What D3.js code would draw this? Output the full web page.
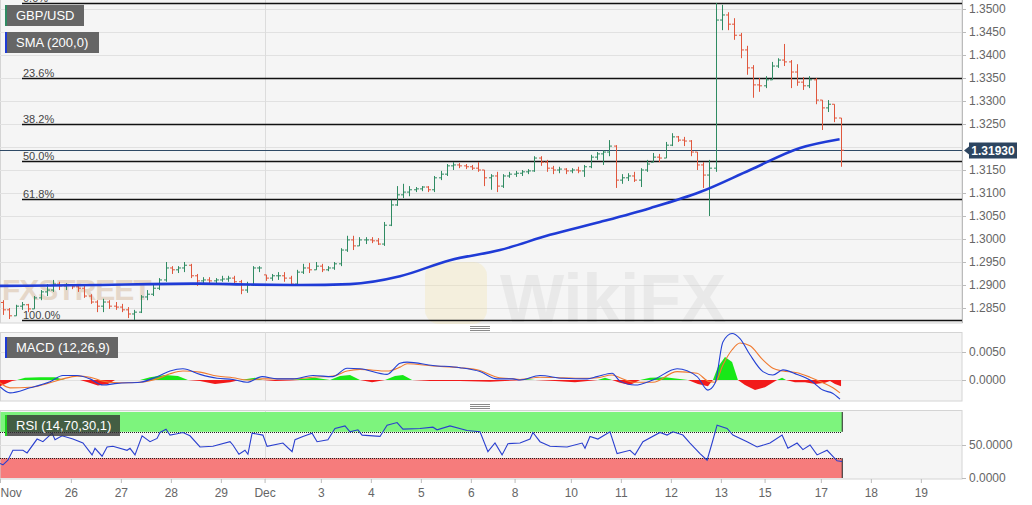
<!DOCTYPE html>
<html>
<head>
<meta charset="utf-8">
<script src="https://d3js.org/d3.v7.min.js"></script>
<style>
	body { margin: 0; background: #fff; }
	svg { display: block; font-family: "Liberation Sans", Arial, sans-serif; }
	.axis text { fill: #666; font-size: 12px; }
	.axis line, .axis path { stroke: #bbb; }
</style>
</head>
<body>
<svg id="chart" width="1032" height="505"></svg>
<script>
// GBP/USD, 3-hour bars, time measured in trading hours from the left edge
var barHours = 3;
var firstOpen = 1.2862;
var barHighs = [1.2867,1.2850,1.2857,1.2863,1.2859,1.2876,1.2889,1.2902,1.2911,1.2907,
	1.2904,1.2902,1.2902,1.2898,1.2880,1.2867,1.2870,1.2867,1.2863,1.2859,
	1.2852,1.2846,1.2878,1.2889,1.2902,1.2915,1.2950,1.2941,1.2941,1.2950,
	1.2946,1.2924,1.2917,1.2917,1.2915,1.2920,1.2920,1.2920,1.2911,1.2907,
	1.2941,1.2941,1.2922,1.2924,1.2928,1.2928,1.2920,1.2933,1.2946,1.2948,
	1.2950,1.2946,1.2941,1.2950,1.2980,1.3007,1.3007,1.3004,1.3004,1.3004,
	1.3002,1.3037,1.3085,1.3115,1.3120,1.3115,1.3113,1.3115,1.3115,1.3137,
	1.3148,1.3163,1.3167,1.3165,1.3163,1.3161,1.3167,1.3150,1.3141,1.3146,
	1.3141,1.3146,1.3148,1.3150,1.3152,1.3180,1.3180,1.3172,1.3159,1.3157,
	1.3154,1.3154,1.3157,1.3161,1.3183,1.3189,1.3193,1.3215,1.3204,1.3141,
	1.3143,1.3146,1.3154,1.3172,1.3187,1.3185,1.3211,1.3230,1.3224,1.3222,
	1.3215,1.3189,1.3167,1.3172,1.3513,1.3509,1.3493,1.3480,1.3448,1.3420,
	1.3378,1.3350,1.3354,1.3385,1.3393,1.3424,1.3389,1.3380,1.3352,1.3354,
	1.3350,1.3302,1.3302,1.3293,1.3263];
var barLows = [1.2835,1.2826,1.2833,1.2846,1.2841,1.2848,1.2867,1.2876,1.2885,1.2889,
	1.2889,1.2891,1.2885,1.2872,1.2859,1.2841,1.2841,1.2848,1.2846,1.2841,
	1.2828,1.2824,1.2839,1.2867,1.2876,1.2889,1.2907,1.2924,1.2926,1.2928,
	1.2915,1.2898,1.2902,1.2904,1.2904,1.2907,1.2907,1.2902,1.2880,1.2883,
	1.2898,1.2928,1.2909,1.2909,1.2911,1.2907,1.2898,1.2900,1.2924,1.2926,
	1.2933,1.2928,1.2930,1.2933,1.2941,1.2972,1.2976,1.2985,1.2989,1.2991,
	1.2987,1.2985,1.3028,1.3072,1.3089,1.3093,1.3102,1.3104,1.3102,1.3102,
	1.3128,1.3137,1.3150,1.3154,1.3152,1.3150,1.3146,1.3115,1.3107,1.3102,
	1.3111,1.3133,1.3135,1.3137,1.3141,1.3146,1.3159,1.3146,1.3141,1.3143,
	1.3141,1.3143,1.3143,1.3135,1.3154,1.3172,1.3161,1.3180,1.3111,1.3120,
	1.3126,1.3124,1.3113,1.3146,1.3167,1.3167,1.3176,1.3202,1.3211,1.3202,
	1.3180,1.3150,1.3111,1.3050,1.3146,1.3454,1.3454,1.3433,1.3393,1.3357,
	1.3307,1.3320,1.3328,1.3346,1.3372,1.3376,1.3328,1.3333,1.3324,1.3328,
	1.3293,1.3237,1.3276,1.3254,1.3157];
var barCloses = [1.2846,1.2833,1.2854,1.2857,1.2848,1.2872,1.2885,1.2889,1.2902,1.2898,
	1.2900,1.2896,1.2893,1.2876,1.2863,1.2854,1.2863,1.2854,1.2852,1.2846,
	1.2837,1.2841,1.2874,1.2880,1.2893,1.2911,1.2937,1.2933,1.2937,1.2943,
	1.2920,1.2909,1.2911,1.2909,1.2911,1.2913,1.2915,1.2907,1.2889,1.2900,
	1.2937,1.2937,1.2915,1.2920,1.2920,1.2915,1.2902,1.2928,1.2937,1.2933,
	1.2941,1.2933,1.2937,1.2946,1.2976,1.2998,1.2985,1.2998,1.2998,1.2996,
	1.2989,1.3030,1.3074,1.3096,1.3102,1.3107,1.3109,1.3113,1.3107,1.3133,
	1.3141,1.3159,1.3161,1.3159,1.3157,1.3154,1.3150,1.3133,1.3137,1.3115,
	1.3137,1.3141,1.3143,1.3146,1.3148,1.3176,1.3167,1.3154,1.3150,1.3152,
	1.3148,1.3150,1.3148,1.3157,1.3178,1.3185,1.3189,1.3202,1.3128,1.3133,
	1.3137,1.3128,1.3150,1.3163,1.3178,1.3176,1.3204,1.3222,1.3215,1.3213,
	1.3189,1.3161,1.3139,1.3154,1.3476,1.3487,1.3467,1.3443,1.3411,1.3372,
	1.3335,1.3333,1.3346,1.3376,1.3389,1.3385,1.3363,1.3341,1.3333,1.3346,
	1.3302,1.3285,1.3293,1.3263,1.3193];
var lastPrice = 1.3193;

var smaHours = [0,24,48,72,96,120,144,168,192,216,240,264,288,312,336,360,384,403];
var smaValues = [1.2898,1.2899,1.2900,1.2902,1.2903,1.2901,1.2900,1.2902,1.2919,1.2954,
	1.2976,1.3009,1.3037,1.3067,1.3102,1.3150,1.3198,1.3217];

var fibHigh = 1.3513, fibLow = 1.2824;
var fibRatios = [0, 0.236, 0.382, 0.5, 0.618, 1];
var fibLabels = ['0.0%', '23.6%', '38.2%', '50.0%', '61.8%', '100.0%'];

var priceTicks = [1.2850,1.2900,1.2950,1.3000,1.3050,1.3100,1.3150,1.3200,1.3250,1.3300,1.3350,1.3400,1.3450,1.3500];

var macdHours = [0,4.8,14.4,24,30.2,37,43.2,49.4,56.2,67.2,75.4,81.6,87.8,96,104.2,111.8,118.6,125.8,133,140.6,
	150.2,159.8,166.6,172.8,185.8,192,195.4,207.8,220.8,230.4,238.6,246.2,249.6,259.2,270.2,281.8,286.6,293.8,297.6,304.8,
	313.4,325,334.6,339.8,343.2,347,351.4,355.2,360,366.2,371,375.8,382.6,388.8,395,399.8,403.2];
var macdLine = [-0.0012,-0.0023,-0.0014,-0.0003,0.0008,0.0008,0.0002,-0.0009,-0.0006,-0.0004,
	0.0006,0.0016,0.0020,0.0010,0.0003,0.0001,-0.0004,0.0006,0.0002,0.0002,
	0.0008,0.0006,0.0021,0.0020,0.0010,0.0030,0.0032,0.0026,0.0022,0.0015,
	0.0002,0.0002,0,0.0008,0.0003,0.0002,0.0006,0.0012,-0.0002,-0.0009,
	0,0.0020,0.0006,-0.0018,-0.0006,0.0068,0.0083,0.0074,0.0045,0.0015,
	0.0009,0.0018,0.0010,0,-0.0018,-0.0024,-0.0034];
var signalLine = [-0.0005,-0.0014,-0.0013,-0.0005,0.0002,0.0007,0.0005,-0.0002,-0.0005,-0.0004,
	0.0002,0.0011,0.0016,0.0014,0.0007,0.0004,0,0.0002,0.0002,0.0002,
	0.0005,0.0007,0.0016,0.0019,0.0016,0.0023,0.0029,0.0025,0.0022,0.0017,
	0.0005,0.0002,0.0001,0.0005,0.0004,0.0003,0.0004,0.0009,0.0004,-0.0004,
	-0.0004,0.0015,0.0012,-0.0002,-0.0004,0.0027,0.0054,0.0066,0.0061,0.0036,
	0.0021,0.0016,0.0013,0.0005,-0.0005,-0.0014,-0.0023];
var histHours = [0,5.8,8.2,12,19.2,26.4,31.2,38.4,42.2,47,51.8,55.2,67.2,72,79.2,85.4,90.2,96,103.2,110.4,
	115.2,122.4,126.2,132,139.2,144,151.2,158.4,163.2,168,172.8,178.6,184.8,189.6,193.4,197.8,206.4,220.8,235.2,247.2,
	252,256.8,266.4,276,287,290.4,293.8,297.6,302.4,307.2,312,319.2,326.4,330.2,335,339.8,342.2,344.6,348,351.4,
	354.2,357.6,362.4,367.2,373,375.4,377.3,381.6,386.4,391.2,396,398.4,400.8,403.7];
var histValues = [-0.0011,-0.0002,0,0.0004,0.0005,0.0005,0,0,-0.0004,-0.0010,
	-0.0007,0,0,0.0005,0.0009,0.0007,0,-0.0002,-0.0007,-0.0004,
	0,0.0004,0,-0.0002,-0.0001,0.0002,0.0004,0,0.0007,0.0009,
	0,-0.0004,0,0.0007,0.0009,0,-0.0002,-0.0002,-0.0003,-0.0001,
	0.0002,0,-0.0002,-0.0004,0,0.0004,0,-0.0005,-0.0009,0,
	0.0004,0.0005,0.0002,0,-0.0007,-0.0011,0,0.0023,0.0041,0.0032,
	0,-0.0009,-0.0018,-0.0013,0,0.0004,0,-0.0004,-0.0004,-0.0007,
	-0.0005,-0.0002,-0.0007,-0.0011];
var macdTicks = [0, 0.005];

var rsiHours = [0,1.4,3.8,6.2,11,13,17.8,20.6,25,26.4,29.8,35,39.8,44.2,45.6,49,51.4,54.2,61,62.4,
	64.8,68.2,72,75.4,76.8,79.7,81.6,85,87.8,91.2,96,102.2,110.4,111.8,114.7,117.6,119,121,126.2,128.2,
	135.8,140.2,141.6,145.4,149.8,152.2,157.4,160.8,165.6,168,171.8,173.8,182.4,185.8,190.6,193.4,201.6,207.8,209.8,216,
	224.2,230.4,234.2,237.6,241,243.8,249.6,254.4,255.8,259.2,264,272.2,279.4,280.8,283.2,287,292.8,296.2,302.4,304.8,
	308.6,316.8,320.2,323,327.8,331.2,336,339.4,341.8,344.2,349,351.8,358.6,363.4,369.6,375.4,378.2,382.6,385.4,388.8,
	392.2,397,401.8,404.2];
var rsiValues = [22,20,27,42,42,38,59,55,68,58,64,59,53,35,45,33,47,48,42,45,
	35,64,55,60,69,74,65,67,69,64,47,48,55,50,36,42,36,68,65,48,
	53,40,58,63,68,55,58,75,79,70,73,65,63,80,84,74,75,77,73,79,
	72,70,40,53,35,52,53,59,69,55,48,47,53,45,63,59,70,37,42,35,
	55,69,65,70,65,53,37,27,53,80,75,65,55,47,53,65,45,53,43,50,
	35,42,26,25];
var rsiUpper = 70, rsiLower = 30;
var rsiTicks = [0, 50];

var dayLabels = ['Nov','26','27','28','29','Dec','3','4','5','6','8','10','11','12','13','15','17','18','19'];
var dayHours = [0,34,58,82,106,127,154,178,202,226,247,274,298,322,346,367,394,418,442];
var monthHour = 127;

(function() {
	var svg = d3.select('#chart');
	var plotW = 962,
		mainTop = 0, mainBottom = 323,
		macdTop = 332.5, macdBottom = 401,
		rsiTop = 410.5, rsiBottom = 479;

	var x = d3.scaleLinear().domain([0, 461.76]).range([0, plotW]);
	var y = d3.scaleLinear().domain([1.2850, 1.3500]).range([308, 9]);
	var yMacd = d3.scaleLinear().domain([0, 0.005]).range([380, 352]);
	var yRsi = d3.scaleLinear().domain([0, 100]).range([478, 412]);
	var dataEnd = barCloses.length * barHours;

	function panel(top, bottom) {
		svg.append('rect')
			.attr('x', 0.5).attr('y', top)
			.attr('width', plotW - 0.5).attr('height', bottom - top)
			.attr('fill', '#f5f5f5')
			.attr('stroke', '#d4d4d4');
	}
	panel(mainTop - 1, mainBottom);
	panel(macdTop, macdBottom);
	panel(rsiTop, rsiBottom);

	svg.append('defs').append('clipPath').attr('id', 'mainClip')
		.append('rect').attr('x', 0).attr('y', 0).attr('width', plotW).attr('height', mainBottom);

	// grid
	svg.append('g').selectAll('line').data(priceTicks).enter().append('line')
		.attr('x1', 0).attr('x2', plotW)
		.attr('y1', function(d) { return Math.round(y(d)) + 0.5; })
		.attr('y2', function(d) { return Math.round(y(d)) + 0.5; })
		.attr('stroke', '#e1e1e1');
	[yMacd(0.005), yMacd(0), yRsi(50)].forEach(function(v) {
		svg.append('line').attr('x1', 0).attr('x2', plotW)
			.attr('y1', Math.round(v) + 0.5).attr('y2', Math.round(v) + 0.5)
			.attr('stroke', '#e1e1e1');
	});
	[[mainTop, mainBottom], [macdTop, macdBottom], [rsiTop, rsiBottom]].forEach(function(p) {
		svg.append('line')
			.attr('x1', Math.round(x(monthHour)) + 0.5).attr('x2', Math.round(x(monthHour)) + 0.5)
			.attr('y1', p[0]).attr('y2', p[1])
			.attr('stroke', '#dcdcdc');
	});

	// watermarks
	svg.append('text').attr('x', 2).attr('y', 300)
		.attr('font-size', 30).attr('font-weight', 'bold').attr('letter-spacing', -1)
		.attr('fill', '#c9a27a').attr('opacity', 0.35).text('FXSTREET');
	svg.append('text').attr('x', 500).attr('y', 322)
		.attr('font-size', 68).attr('font-weight', 'bold')
		.attr('fill', '#cfcfcf').attr('opacity', 0.3).text('WikiFX');
	svg.append('rect').attr('x', 425).attr('y', 262).attr('width', 62).attr('height', 62).attr('rx', 14)
		.attr('fill', '#f3e2a6').attr('opacity', 0.3);

	var main = svg.append('g').attr('clip-path', 'url(#mainClip)');

	// fibonacci levels
	var fib = main.append('g');
	fibRatios.forEach(function(r, i) {
		var lv = fibHigh - r * (fibHigh - fibLow);
		var yy = Math.round(y(lv)) + 0.5;
		fib.append('line').attr('x1', 22).attr('x2', plotW)
			.attr('y1', yy).attr('y2', yy)
			.attr('stroke', '#111').attr('stroke-width', 1.4);
		fib.append('text').attr('x', 23).attr('y', yy - 2)
			.attr('font-size', 11).attr('fill', '#444')
			.text(fibLabels[i]);
	});

	// current price line
	var py = Math.round(y(lastPrice)) + 0.5;
	main.append('line').attr('x1', 0).attr('x2', plotW).attr('y1', py).attr('y2', py)
		.attr('stroke', '#2f4a66').attr('stroke-width', 1);

	// OHLC bars
	main.append('g').selectAll('path').data(barCloses).enter().append('path')
		.attr('d', function(c, i) {
			var prev = i > 0 ? barCloses[i - 1] : firstOpen;
			var o = Math.max(barLows[i], Math.min(barHighs[i], prev));
			var cx = Math.round(x(i * barHours + barHours / 2)) + 0.5;
			return 'M' + cx + ',' + y(barHighs[i]) + 'V' + y(barLows[i]) +
				'M' + (cx - 2.5) + ',' + y(o) + 'H' + cx +
				'M' + cx + ',' + y(c) + 'H' + (cx + 2.5);
		})
		.attr('fill', 'none')
		.attr('stroke-width', 1)
		.attr('stroke', function(c, i) {
			var prev = i > 0 ? barCloses[i - 1] : firstOpen;
			return c >= prev ? '#2f8b62' : '#e0573d';
		});

	// SMA 200
	main.append('path')
		.datum(smaHours)
		.attr('d', d3.line()
			.x(function(d) { return x(d); })
			.y(function(d, i) { return y(smaValues[i]); })
			.curve(d3.curveMonotoneX))
		.attr('fill', 'none')
		.attr('stroke', '#1f3bd6')
		.attr('stroke-width', 2.6);

	// MACD histogram
	var idx = d3.range(histHours.length);
	svg.append('path').datum(idx)
		.attr('d', d3.area()
			.x(function(i) { return x(histHours[i]); })
			.y0(yMacd(0))
			.y1(function(i) { return yMacd(Math.max(0, histValues[i])); }))
		.attr('fill', '#18e818');
	svg.append('path').datum(idx)
		.attr('d', d3.area()
			.x(function(i) { return x(histHours[i]); })
			.y0(yMacd(0))
			.y1(function(i) { return yMacd(Math.min(0, histValues[i])); }))
		.attr('fill', '#f21a1a');

	var macdIdx = d3.range(macdHours.length);
	[[signalLine, '#f07a30'], [macdLine, '#2240d4']].forEach(function(s) {
		svg.append('path').datum(macdIdx)
			.attr('d', d3.line()
				.x(function(i) { return x(macdHours[i]); })
				.y(function(i) { return yMacd(s[0][i]); })
				.curve(d3.curveMonotoneX))
			.attr('fill', 'none')
			.attr('stroke', s[1])
			.attr('stroke-width', 1.1);
	});

	// RSI bands
	var bandR = x(dataEnd) - 2;
	svg.append('rect').attr('x', 0.5).attr('y', yRsi(100)).attr('width', bandR)
		.attr('height', yRsi(rsiUpper) - yRsi(100)).attr('fill', '#7df47d');
	svg.append('rect').attr('x', 0.5).attr('y', yRsi(rsiLower)).attr('width', bandR)
		.attr('height', yRsi(0) - yRsi(rsiLower)).attr('fill', '#f67c7c');
	[rsiUpper, rsiLower].forEach(function(v) {
		svg.append('line').attr('x1', 0).attr('x2', bandR)
			.attr('y1', Math.round(yRsi(v)) + 0.5).attr('y2', Math.round(yRsi(v)) + 0.5)
			.attr('stroke', '#222').attr('stroke-dasharray', '1,1');
	});
	svg.append('line').attr('x1', bandR + 0.5).attr('x2', bandR + 0.5)
		.attr('y1', yRsi(100)).attr('y2', yRsi(rsiUpper))
		.attr('stroke', '#222');
	svg.append('line').attr('x1', bandR + 0.5).attr('x2', bandR + 0.5)
		.attr('y1', yRsi(rsiLower)).attr('y2', yRsi(0))
		.attr('stroke', '#222');

	var rsiIdx = d3.range(rsiHours.length);
	svg.append('path').datum(rsiIdx)
		.attr('d', d3.line()
			.x(function(i) { return x(rsiHours[i]); })
			.y(function(i) { return yRsi(rsiValues[i]); }))
		.attr('fill', 'none')
		.attr('stroke', '#2a3fcf')
		.attr('stroke-width', 1.1);

	// axes (the tick hidden under the last-price tag is left out)
	var shownPriceTicks = priceTicks.filter(function(t) { return Math.abs(y(t) - y(lastPrice)) > 10; });
	svg.append('g').attr('class', 'axis')
		.attr('transform', 'translate(' + plotW + ',0)')
		.call(d3.axisRight(y).tickValues(shownPriceTicks).tickSize(4).tickPadding(3).tickFormat(d3.format('.4f')))
		.call(function(g) { g.select('.domain').attr('d', 'M0.5,0V' + mainBottom); });
	svg.append('g').attr('class', 'axis')
		.attr('transform', 'translate(' + plotW + ',0)')
		.call(d3.axisRight(yMacd).tickValues(macdTicks).tickSize(4).tickPadding(3).tickFormat(d3.format('.4f')))
		.call(function(g) { g.select('.domain').remove(); });
	svg.append('g').attr('class', 'axis')
		.attr('transform', 'translate(' + plotW + ',0)')
		.call(d3.axisRight(yRsi).tickValues(rsiTicks).tickSize(4).tickPadding(3).tickFormat(d3.format('.4f')))
		.call(function(g) { g.select('.domain').remove(); });
	var xAxis = svg.append('g').attr('class', 'axis')
		.attr('transform', 'translate(0,' + rsiBottom + ')')
		.call(d3.axisBottom(x).tickValues(dayHours).tickSize(4).tickPadding(5)
			.tickFormat(function(d, i) { return dayLabels[i]; }));
	xAxis.select('.domain').remove();
	xAxis.selectAll('.tick').filter(function(d, i) { return i === 0; })
		.select('text').attr('text-anchor', 'start').attr('x', 0);

	// last price label
	var lbl = svg.append('g').attr('transform', 'translate(' + (plotW + 2) + ',' + py + ')');
	lbl.append('path').attr('d', 'M0,0L5,-4V-8H53V8H5V4Z').attr('fill', '#2d4560');
	lbl.append('text').attr('x', 29).attr('y', 4.5).attr('text-anchor', 'middle')
		.attr('font-size', 12).attr('font-weight', 'bold').attr('fill', '#fff')
		.text(d3.format('.5f')(lastPrice));

	// panel handles
	[328, 406].forEach(function(hy) {
		[-2, 0, 2].forEach(function(o) {
			svg.append('line').attr('x1', 470).attr('x2', 490)
				.attr('y1', hy + o + 0.5).attr('y2', hy + o + 0.5)
				.attr('stroke', '#8a8a8a');
		});
	});

	// legend boxes
	function legend(lx, ly, w, text, edge, bg, op) {
		svg.append('rect').attr('x', lx).attr('y', ly).attr('width', w).attr('height', 21)
			.attr('fill', bg).attr('opacity', op);
		svg.append('rect').attr('x', lx).attr('y', ly).attr('width', 2).attr('height', 21)
			.attr('fill', edge);
		svg.append('text').attr('x', lx + 11).attr('y', ly + 15)
			.attr('font-size', 13).attr('fill', '#fff').text(text);
	}
	legend(5, 5, 79, 'GBP/USD', '#2f8b62', '#666', 1);
	legend(5, 32, 94, 'SMA (200,0)', '#1f3bd6', '#666', 1);
	legend(5, 337, 113, 'MACD (12,26,9)', '#1f3bd6', '#666', 1);
	legend(5, 415, 115, 'RSI (14,70,30,1)', '#1fd01f', '#333', 0.78);
})();
</script>
</body>
</html>
